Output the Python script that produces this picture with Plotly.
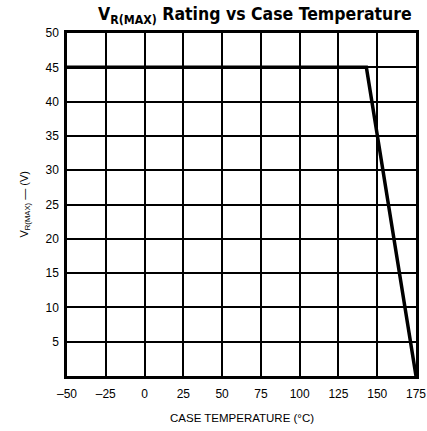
import plotly.graph_objects as go

temp_c = [-50, 143, 175]
vr_max = [45, 45, 0]

x_ticks = [-50, -25, 0, 25, 50, 75, 100, 125, 150, 175]
x_tick_labels = ["\u201350", "\u201325", "0", "25", "50", "75", "100", "125", "150", "175"]
y_ticks = [5, 10, 15, 20, 25, 30, 35, 40, 45, 50]
y_tick_labels = [str(v) for v in y_ticks]

TFONT = "DejaVu Sans Condensed, Liberation Sans, Arial"
FONT = "Liberation Sans, Arial"

fig = go.Figure()
fig.add_trace(go.Scatter(x=temp_c, y=vr_max, mode="lines",
                         line=dict(color="black", width=3.5), showlegend=False))

fig.update_layout(
    width=427, height=431,
    margin=dict(l=67, r=11, t=33, b=55),
    paper_bgcolor="white", plot_bgcolor="white",
    font=dict(family=FONT, color="black", size=12),
    title=dict(text="<b>V<sub>R(MAX)</sub> Rating vs Case Temperature</b>",
               x=0.597, xanchor="center", y=0.982, yanchor="top",
               font=dict(size=17.5, family=TFONT)),
    xaxis=dict(range=[-50, 175], tickmode="array", tickvals=x_ticks, ticktext=x_tick_labels,
               showgrid=True, gridcolor="black", gridwidth=1.5,
               showline=True, linecolor="black", linewidth=2.5, mirror=True,
               ticks="outside", ticklen=5, tickcolor="rgba(0,0,0,0)",
               zeroline=False, tickfont=dict(size=12, family=FONT), automargin=False),
    yaxis=dict(range=[0, 50], tickmode="array", tickvals=y_ticks, ticktext=y_tick_labels,
               showgrid=True, gridcolor="black", gridwidth=1.5,
               showline=True, linecolor="black", linewidth=2.5, mirror=True,
               ticks="outside", ticklen=3, tickcolor="rgba(0,0,0,0)",
               zeroline=False, tickfont=dict(size=12, family=FONT), automargin=False),
    annotations=[
        dict(text="CASE TEMPERATURE (\u00b0C)", xref="paper", yref="paper",
             x=0.5, y=-0.1, xanchor="center", yanchor="top", showarrow=False,
             font=dict(size=11.5, family=FONT)),
        dict(text="V<sub>R(MAX)</sub> \u2014 (V)", xref="paper", yref="paper",
             x=-0.123, y=0.5, xanchor="center", yanchor="middle", showarrow=False,
             textangle=-90, font=dict(size=11, family=FONT)),
    ],
)

fig.write_html("out.html", config={"displayModeBar": False},
               post_script="document.body.style.margin='0';")
